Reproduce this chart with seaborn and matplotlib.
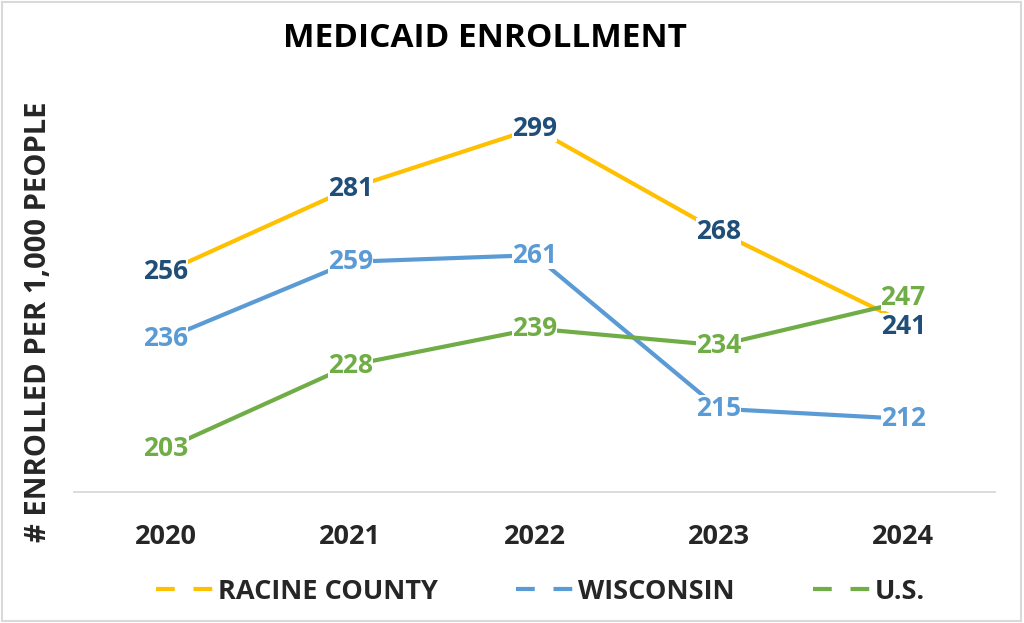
import matplotlib
matplotlib.use('Agg')
import matplotlib.pyplot as plt
from matplotlib.lines import Line2D
from matplotlib.patches import Rectangle
import seaborn as sns
import pandas as pd

years = [2020, 2021, 2022, 2023, 2024]
racine = [256, 281, 299, 268, 241]
wisconsin = [236, 259, 261, 215, 212]
us = [203, 228, 239, 234, 247]

series_names = ['RACINE COUNTY', 'WISCONSIN', 'U.S.']
line_colors = ['#FFC000', '#5B9BD5', '#70AD47']
label_colors = ['#1F4E79', '#5B9BD5', '#70AD47']

sns.set_theme(style="white")
plt.rcParams['font.family'] = ['Open Sans', 'DejaVu Sans']
plt.rcParams['font.weight'] = 'bold'

df = pd.DataFrame({
    'year': years * 3,
    'value': racine + wisconsin + us,
    'series': [n for n in series_names for _ in years],
})

fig = plt.figure(figsize=(10.24, 6.23), dpi=100)
ax = fig.add_axes([0.072, 0.21, 0.900, 0.643])

sns.lineplot(data=df, x='year', y='value', hue='series', hue_order=series_names,
             palette=line_colors, linewidth=3.0, legend=False, ax=ax,
             solid_capstyle='butt')

# data labels centred on the points; the white box hides the line behind them
# the two 2024 labels sit close together, nudge them apart a little
nudge = {('U.S.', 2024): 3, ('RACINE COUNTY', 2024): -3}
for name, lc in zip(series_names, label_colors):
    sub = df[df['series'] == name]
    for x, y in zip(sub['year'], sub['value']):
        ax.annotate(f'{y}', xy=(x, y), xytext=(0, nudge.get((name, x), 0)),
                    textcoords='offset points', ha='center', va='center',
                    fontsize=19, fontweight='bold', color=lc, zorder=5,
                    bbox=dict(boxstyle='square,pad=0.0', fc='white', ec='none'))

ax.set_xlim(2019.5, 2024.5)
ax.set_ylim(190, 310)
ax.set_xticks(years)
ax.set_xticklabels([str(y) for y in years], fontsize=19.5, fontweight='bold')
ax.tick_params(axis='x', length=0, pad=23)
ax.set_yticks([])
ax.set_xlabel('')
ax.set_ylabel('# ENROLLED PER 1,000 PEOPLE', fontsize=21, fontweight='bold',
              labelpad=0)
ax.yaxis.set_label_coords(-0.023, 0.425)
for s in ['top', 'right', 'left']:
    ax.spines[s].set_visible(False)
ax.spines['bottom'].set_color('#D9D9D9')
ax.spines['bottom'].set_linewidth(1.3)

fig.text(0.474, 0.938, 'MEDICAID ENROLLMENT', ha='center', va='center',
         fontsize=24, fontweight='bold', color='black')

handles = [Line2D([0], [0], color=c, linewidth=3.0, linestyle=(0, (4.5, 4.5)))
           for c in line_colors]
fig.legend(handles, series_names, loc='center', bbox_to_anchor=(0.528, 0.05),
           ncol=3, frameon=False, prop={'weight': 'bold', 'size': 19.5},
           handlelength=2.1, handletextpad=0.18, columnspacing=2.9)

fig.patches.append(Rectangle((0.002, 0.004), 0.995, 0.992, transform=fig.transFigure,
                             fill=False, edgecolor='#D9D9D9', linewidth=1.5))

fig.savefig('out.png', dpi=100)
